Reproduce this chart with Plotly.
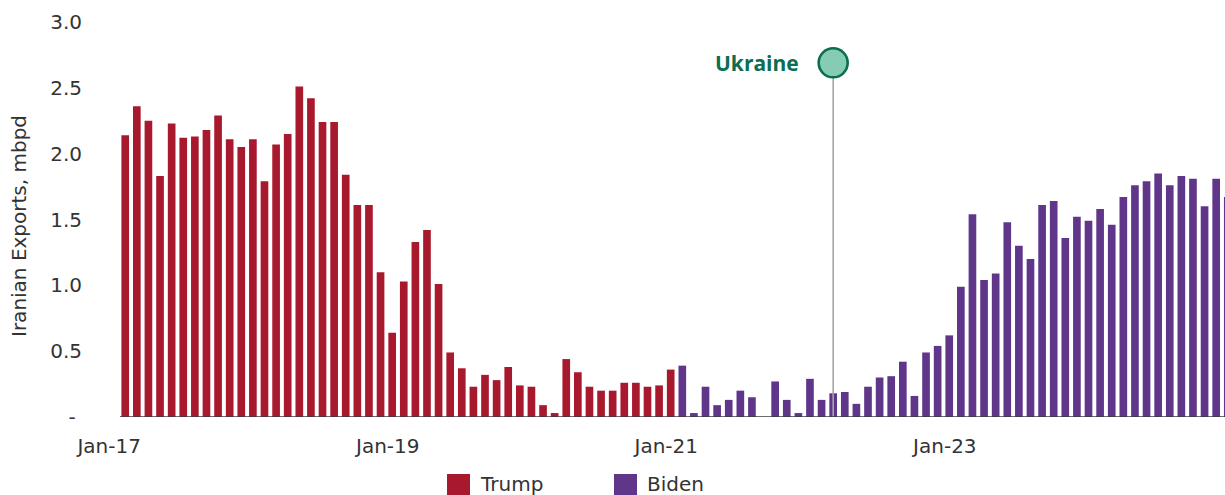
import plotly.graph_objects as go
import pandas as pd

# Monthly Iranian crude exports (million barrels per day), Jan 2017 - Dec 2024
months = pd.date_range("2017-01-01", "2024-12-01", freq="MS").strftime("%b-%y").tolist()

trump_values = [
    2.14, 2.36, 2.25, 1.83, 2.23, 2.12, 2.13, 2.18, 2.29, 2.11, 2.05, 2.11,
    1.79, 2.07, 2.15, 2.51, 2.42, 2.24, 2.24, 1.84, 1.61, 1.61, 1.10, 0.64,
    1.03, 1.33, 1.42, 1.01, 0.49, 0.37, 0.23, 0.32, 0.28, 0.38, 0.24, 0.23,
    0.09, 0.03, 0.44, 0.34, 0.23, 0.20, 0.20, 0.26, 0.26, 0.23, 0.24, 0.36,
]
biden_values = [
    0.39, 0.03, 0.23, 0.09, 0.13, 0.20, 0.15, None, 0.27, 0.13, 0.03, 0.29,
    0.13, 0.18, 0.19, 0.10, 0.23, 0.30, 0.31, 0.42, 0.16, 0.49, 0.54, 0.62,
    0.99, 1.54, 1.04, 1.09, 1.48, 1.30, 1.20, 1.61, 1.64, 1.36, 1.52, 1.49,
    1.58, 1.46, 1.67, 1.76, 1.79, 1.85, 1.76, 1.83, 1.81, 1.60, 1.81, 1.67,
]

x_tick_labels = ["Jan-17", "Jan-19", "Jan-21", "Jan-23"]
y_tick_values = [0, 0.5, 1.0, 1.5, 2.0, 2.5, 3.0]
y_tick_labels = ["-\u00a0", "0.5", "1.0", "1.5", "2.0", "2.5", "3.0"]

event_label = "Ukraine"
event_month = "Feb-22"

# ---- styling ---------------------------------------------------------------
RED = "#A8192E"
PURPLE = "#60368A"
GREEN = "#0B6E4F"
TEAL = "#86CCB4"
TEXT = "#333333"
FONT = "DejaVu Sans"

FIG_W, FIG_H = 1225, 495
M_L, M_R, M_T, M_B = 101, 0, 22, 78
PLOT_W = FIG_W - M_L - M_R
PLOT_H = FIG_H - M_T - M_B

# x range: a little room on the left so the first date label fits
X_MIN, X_MAX = -2.087, 94.76
BASE_START = -0.45


def px_x(p):
    return (p - M_L) / PLOT_W


def px_y(p):
    return (FIG_H - M_B - p) / PLOT_H


n_trump = len(trump_values)
x_trump = list(range(n_trump))
x_biden = list(range(n_trump, n_trump + len(biden_values)))

event_x = months.index(event_month)
marker_y = 2.69
tick_shift = -1.38  # date labels sit a little left of their month's bar

fig = go.Figure()
fig.add_trace(go.Bar(x=x_trump, y=trump_values, name="Trump", marker_color=RED,
                     marker_line_width=0, width=0.66))
fig.add_trace(go.Bar(x=x_biden, y=biden_values, name="Biden", marker_color=PURPLE,
                     marker_line_width=0, width=0.66))

# event stem and marker
fig.add_trace(go.Scatter(x=[event_x, event_x], y=[0, marker_y], mode="lines",
                         line=dict(color="#A6A6A6", width=1.6), hoverinfo="skip"))
fig.add_trace(go.Scatter(x=[event_x], y=[marker_y], mode="markers",
                         marker=dict(size=29, color=TEAL, line=dict(color=GREEN, width=2.6)),
                         cliponaxis=False, hoverinfo="skip"))
fig.add_annotation(x=event_x, y=marker_y, xref="x", yref="y", text=f"<b>{event_label}</b>",
                   showarrow=False, xanchor="right", yanchor="middle", xshift=-32,
                   font=dict(family="Open Sans", size=21, color=GREEN))

# baseline
fig.add_shape(type="line", xref="x", yref="y", x0=BASE_START, x1=X_MAX + 1, y0=0, y1=0,
              line=dict(color="#3A3A3A", width=1.5), layer="above")

jan_positions = [months.index(lbl) + tick_shift for lbl in x_tick_labels]

fig.update_layout(
    width=FIG_W, height=FIG_H,
    margin=dict(l=M_L, r=M_R, t=M_T, b=M_B, pad=0),
    plot_bgcolor="white", paper_bgcolor="white",
    barmode="overlay", showlegend=False,
    font=dict(family=FONT, size=20, color=TEXT),
    xaxis=dict(range=[X_MIN, X_MAX], showgrid=False, zeroline=False, showline=False,
               ticks="", tickmode="array", tickvals=jan_positions, ticktext=x_tick_labels,
               ticklabelstandoff=15),
    yaxis=dict(range=[0, 3], showgrid=False, zeroline=False, showline=False,
               ticks="", tickmode="array", tickvals=y_tick_values, ticktext=y_tick_labels,
               ticklabelstandoff=18),
)

# axis title
fig.add_annotation(x=px_x(19), y=px_y(226), xref="paper", yref="paper",
                   text="Iranian Exports, mbpd", textangle=-90, showarrow=False,
                   xanchor="center", yanchor="middle", font=dict(family=FONT, size=20, color=TEXT))

# legend
legend_items = [("Trump", RED, 447), ("Biden", PURPLE, 614)]
for name, color, left in legend_items:
    fig.add_shape(type="rect", xref="paper", yref="paper",
                  x0=px_x(left), x1=px_x(left + 23), y0=px_y(474), y1=px_y(497),
                  fillcolor=color, line_width=0)
    fig.add_annotation(x=px_x(left + 31), y=px_y(484), xref="paper", yref="paper",
                       text=name, showarrow=False, xanchor="left", yanchor="middle",
                       font=dict(family=FONT, size=20, color=TEXT))

fig.write_html("out.html")
